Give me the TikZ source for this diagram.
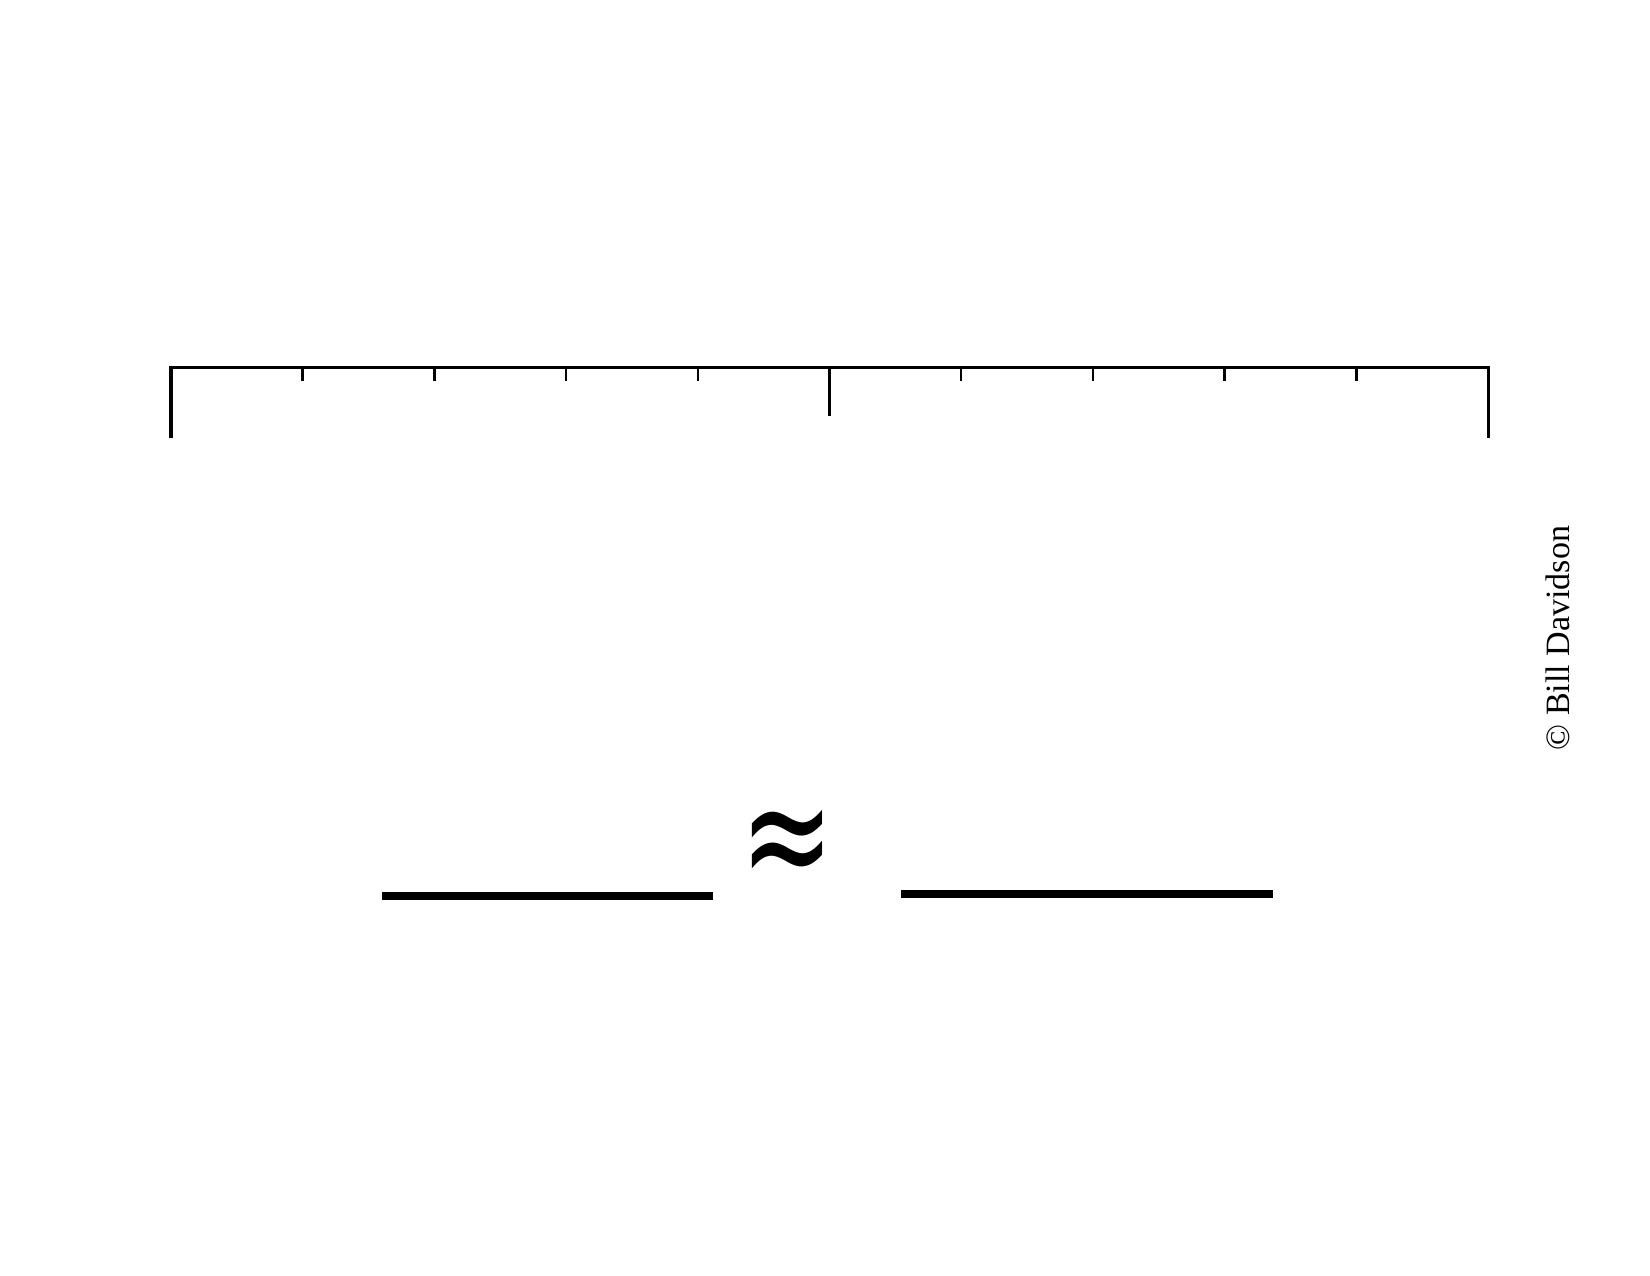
\documentclass[tikz,border=0pt]{standalone}
\usepackage{fontspec}
\usepackage{graphicx}
\setmainfont{Liberation Serif}
\newfontfamily\symfont{DejaVu Sans}
\begin{document}
\begin{tikzpicture}[x=1in/150,y=-1in/150]
    \useasboundingbox (0,0) rectangle (1650,1275);
    %% ruler
    \draw[line width=1.45pt] (171,438) -- (171,367) -- (1488,367) -- (1488,438);
    \foreach \x in {1,2,3,4,6,7,8,9}
        \draw[line width=1.2pt] (171+\x*131.7,367) -- ++(0,14);
    \draw[line width=1.25pt] (829.5,367) -- (829.5,415.5);
    %% answer lines
    \foreach \i in {0,...,5}
        \draw[line width=4.3pt] (382+\i*55.2,896) -- ++(55.2,0);
    \foreach \i in {0,...,4}
        \draw[line width=3.9pt] (901+\i*74.4,894) -- ++(74.4,0);
    \node[inner sep=0pt,font=\symfont\fontsize{54}{54}\selectfont] (approx) at (787,850) {\scalebox{1}[1.45]{≈}};
    \node[rotate=90,anchor=base,inner sep=0pt,font=\fontsize{16.4}{16.4}\selectfont] (copyright) at (1569,638) {© Bill Davidson};
\end{tikzpicture}
\end{document}
